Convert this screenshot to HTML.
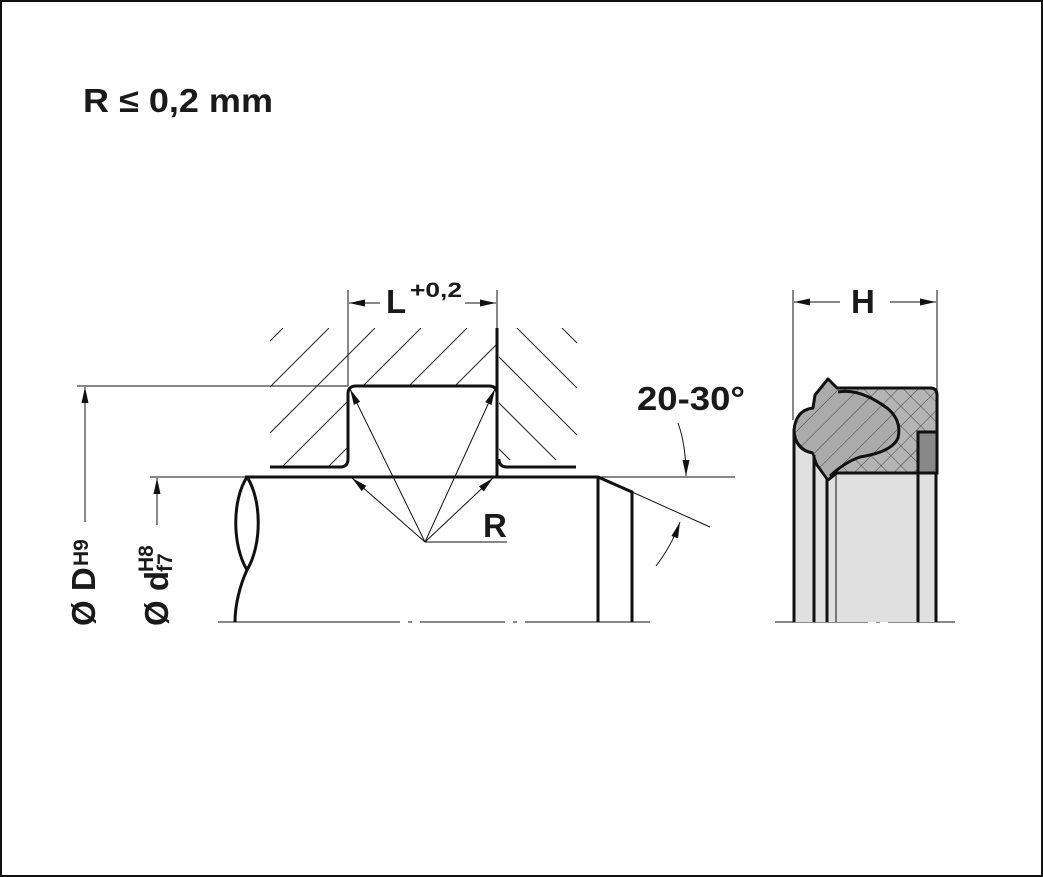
<!DOCTYPE html>
<html><head><meta charset="utf-8"><style>
html,body{margin:0;padding:0;background:#fff}
svg{display:block}
text{font-family:"Liberation Sans",Arial,sans-serif;font-weight:bold;fill:#1a1a1a}
</style></head><body>
<svg width="1043" height="877" viewBox="0 0 1043 877" xmlns="http://www.w3.org/2000/svg">
<defs>
<marker id="ar" viewBox="0 0 16 8" refX="16" refY="4" markerWidth="17" markerHeight="8" markerUnits="userSpaceOnUse" orient="auto"><path d="M0,0.5 L16,4 L0,7.5 Z" fill="#111"/></marker>
<clipPath id="cl"><rect x="270" y="328" width="227" height="139"/></clipPath>
<clipPath id="cr"><rect x="499" y="328" width="79" height="139"/></clipPath>
<pattern id="xh" width="14" height="14" patternUnits="userSpaceOnUse" patternTransform="rotate(45)">
<rect width="14" height="14" fill="#b4b4b4"/><path d="M0,0 H14 M0,0 V14" stroke="#222" stroke-width="0.8"/></pattern>
<pattern id="sh" width="14" height="14" patternUnits="userSpaceOnUse" patternTransform="rotate(-45)">
<rect width="14" height="14" fill="#ababab"/><path d="M0,0 H14" stroke="#222" stroke-width="0.8"/></pattern>
</defs>
<rect x="1" y="1" width="1041" height="875" fill="#fff" stroke="#111" stroke-width="2"/>
<text x="83" y="112" font-size="33" textLength="190" lengthAdjust="spacingAndGlyphs">R ≤ 0,2 mm</text>

<!-- hatching -->
<g stroke="#222" stroke-width="1" clip-path="url(#cl)">
<line x1="224" y1="387" x2="283" y2="328"/><line x1="270" y1="387" x2="329" y2="328"/>
<line x1="270" y1="433" x2="375" y2="328"/><line x1="270" y1="479" x2="421" y2="328"/>
<line x1="270" y1="525" x2="467" y2="328"/><line x1="270" y1="571" x2="513" y2="328"/>
</g>
<rect x="349" y="387" width="147" height="90" fill="#fff"/>
<g stroke="#222" stroke-width="1" clip-path="url(#cr)">
<line x1="472" y1="283" x2="577" y2="388"/><line x1="517" y1="283" x2="577" y2="343"/>
<line x1="472" y1="330" x2="577" y2="435"/><line x1="472" y1="376" x2="577" y2="481"/>
<line x1="472" y1="422" x2="577" y2="527"/>
</g>
<rect x="499" y="460" width="80" height="6" fill="#fff"/>

<!-- groove -->
<g fill="none" stroke="#111" stroke-width="3">
<path d="M270,467 H340 Q348,467 348,459 V394 Q348,386 356,386 H489 Q497,386 497,394"/>
<path d="M497,328 V477"/>
<path d="M576,467 H507 Q499,467 499,459"/>
<path d="M245,477 H598 L632,492 V622 M598,477 V622"/>
<path d="M247,477 C232,500 232,545 247,570 M247,477 C262,500 262,545 247,570 C240,585 235,605 235,622"/>
</g>
<!-- thin lines -->
<g stroke="#111" stroke-width="1" fill="none">
<line x1="348" y1="290" x2="348" y2="386"/><line x1="497" y1="290" x2="497" y2="330"/>
<line x1="77" y1="386" x2="348" y2="386"/><line x1="150" y1="477" x2="245" y2="477"/>
<line x1="598" y1="477" x2="735" y2="477"/><line x1="632" y1="492" x2="710" y2="527"/>
<line x1="425" y1="542" x2="507" y2="542"/>
<path d="M218,622 H400 M408,622 H412 M420,622 H505 M513,622 H517 M525,622 H650" />
<path d="M775,622 H868 M876,622 H880 M888,622 H955"/>
</g>
<g stroke="#111" stroke-width="1" fill="none" marker-end="url(#ar)">
<line x1="380" y1="303" x2="349" y2="303"/><line x1="465" y1="303" x2="496" y2="303"/>
<line x1="85" y1="522" x2="85" y2="387"/><line x1="157" y1="525" x2="157" y2="478"/>
<line x1="425" y1="542" x2="350" y2="389"/><line x1="425" y1="542" x2="495" y2="389"/>
<line x1="425" y1="542" x2="352" y2="478"/><line x1="425" y1="542" x2="493" y2="478"/>
<path d="M678,423 Q686,445 686,476"/><path d="M656,566 Q672,545 680,522"/>
<line x1="840" y1="302" x2="794" y2="302"/><line x1="890" y1="302" x2="936" y2="302"/>
</g>
<text x="386" y="313" font-size="33">L</text><text x="410" y="297" font-size="21" textLength="52" lengthAdjust="spacingAndGlyphs">+0,2</text>
<text x="483" y="537" font-size="33">R</text>
<text x="637" y="410" font-size="33" textLength="108" lengthAdjust="spacingAndGlyphs">20-30°</text>
<text x="851" y="313" font-size="33">H</text>
<text transform="translate(95,626) rotate(-90)" font-size="33">Ø D</text>
<text transform="translate(88,566) rotate(-90)" font-size="21">H9</text>
<text transform="translate(168,626) rotate(-90)" font-size="33">Ø d</text>
<text transform="translate(153,572) rotate(-90)" font-size="21">H8</text>
<text transform="translate(172,572) rotate(-90)" font-size="21">f7</text>

<!-- seal -->
<line x1="793" y1="290" x2="793" y2="420" stroke="#111" stroke-width="1"/>
<line x1="937" y1="290" x2="937" y2="400" stroke="#111" stroke-width="1"/>
<rect x="794" y="440" width="142" height="182" fill="#e0e0e0"/>
<path d="M828,379 L837,388 H930 Q937,388 937,395 V473 H837 L828,480 L817,465 L813,453 Q795,450 794,430 Q796,410 813,408 L815,395 Z" fill="url(#xh)" stroke="#111" stroke-width="3" stroke-linejoin="round"/>
<path d="M829,382 L838,392 Q860,388 887,408 Q902,420 898,438 Q892,452 860,457 Q845,462 828,478 L818,464 L813,451 Q797,448 797,430 Q798,412 814,410 L817,396 Z" fill="url(#sh)"/>
<path d="M838,392 Q860,388 887,408 Q902,420 898,438 Q892,452 860,457 Q845,462 830,476" fill="none" stroke="#111" stroke-width="3"/>
<rect x="918" y="432" width="19" height="41" fill="#888" stroke="#111" stroke-width="3"/>
<g stroke="#111" stroke-width="3">
<line x1="794" y1="430" x2="794" y2="622"/><line x1="814" y1="455" x2="814" y2="622"/>
<line x1="827" y1="478" x2="827" y2="622"/><line x1="918" y1="473" x2="918" y2="622"/>
<line x1="936" y1="473" x2="936" y2="622"/>
</g>
<line x1="836" y1="474" x2="836" y2="622" stroke="#111" stroke-width="1"/>
</svg>
</body></html>
